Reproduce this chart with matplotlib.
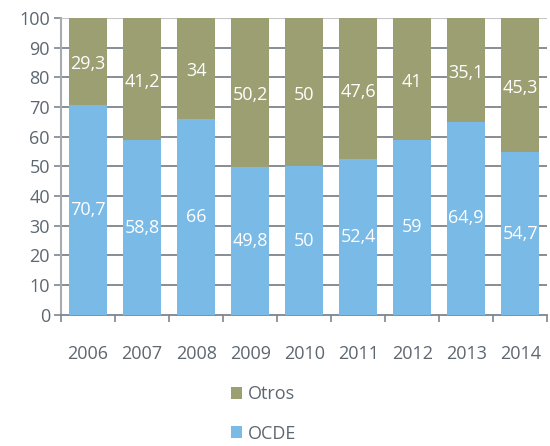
import matplotlib
matplotlib.use("Agg")
import matplotlib.pyplot as plt
import numpy as np

years = ['2006', '2007', '2008', '2009', '2010', '2011', '2012', '2013', '2014']
ocde = [70.7, 58.8, 66, 49.8, 50, 52.4, 59, 64.9, 54.7]
otros = [29.3, 41.2, 34, 50.2, 50, 47.6, 41, 35.1, 45.3]

def fmt(v):
	s = ('%.1f' % v).rstrip('0').rstrip('.')
	return s.replace('.', ',')

plt.rcParams['font.family'] = ['Open Sans', 'DejaVu Sans']
txt = '#5d6770'
green = '#9c9f72'
blue = '#79bae6'
fs = 13

fig = plt.figure(figsize=(5.5, 4.46), dpi=100)
ax = fig.add_axes([0.111, 0.294, 0.884, 0.666])

x = np.arange(len(years))
ax.bar(x, ocde, width=0.7, color=blue, zorder=3, label='OCDE')
ax.bar(x, otros, width=0.7, bottom=ocde, color=green, zorder=3, label='Otros')

#gridlines
for v in range(10, 100, 10):
	ax.axhline(v, color='#7d858c', lw=1.3, zorder=1)
ax.axhline(100, color='#c4c6c8', lw=1.5, zorder=1)

#value labels
for i in x:
	ax.text(i, ocde[i] / 2, fmt(ocde[i]), ha='center', va='center', color='white', fontsize=fs, zorder=4)
	ax.text(i, ocde[i] + otros[i] / 2 - 1, fmt(otros[i]), ha='center', va='center', color='white', fontsize=fs, zorder=4)

ax.set_xlim(-0.5, len(years) - 0.5)
ax.set_ylim(0, 100)
ax.set_yticks(range(0, 101, 10))
ax.tick_params(axis='y', colors='#8a9096', labelcolor=txt, labelsize=fs, length=5, width=1.3, pad=3)
ax.set_xticks(x)
ax.set_xticklabels(years)
ax.set_xticks(np.arange(-0.5, len(years), 1), minor=True)
ax.tick_params(axis='x', which='major', length=0, pad=22, labelcolor=txt, labelsize=fs)
ax.tick_params(axis='x', which='minor', length=5, width=1.3, color='#8a9096')

for s in ['top', 'right']:
	ax.spines[s].set_visible(False)
ax.spines['left'].set_color('#a6abb0')
ax.spines['left'].set_linewidth(1.5)
ax.spines['bottom'].set_color('#7d858c')
ax.spines['bottom'].set_linewidth(1.3)

h, l = ax.get_legend_handles_labels()
fig.legend(h[::-1], l[::-1], loc='center left', bbox_to_anchor=(0.39, 0.072), frameon=False,
	fontsize=fs, labelcolor=txt, handlelength=0.65, handleheight=0.65, handletextpad=0.3, labelspacing=1.2)

fig.savefig('out.png', dpi=100)
